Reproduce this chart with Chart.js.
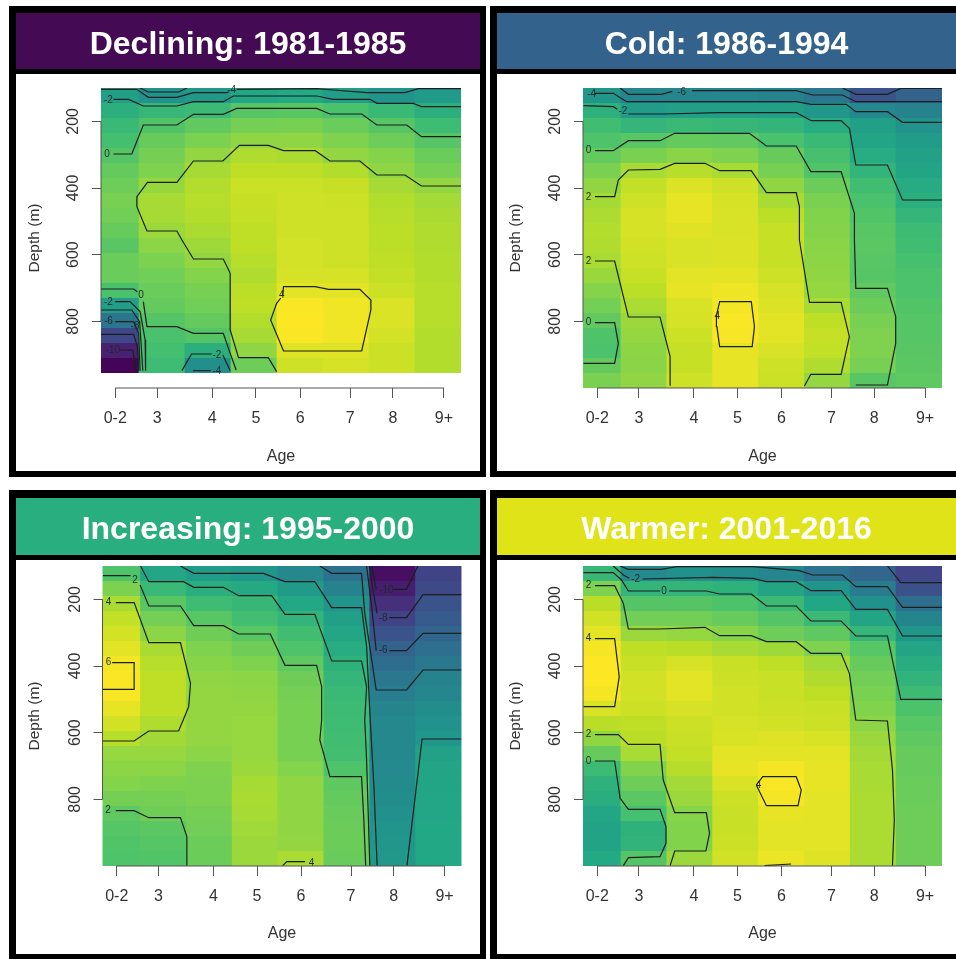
<!DOCTYPE html>
<html><head><meta charset="utf-8"><title>Temperature anomaly by age and depth</title>
<script src="https://cdn.jsdelivr.net/npm/chart.js@4"></script>
<style>
html,body{margin:0;padding:0;background:#fff;width:956px;height:959px;overflow:hidden;font-family:"Liberation Sans",Arial,sans-serif}
.frame{position:absolute;background:#000}
.head{position:absolute;box-sizing:border-box;padding-top:4px;color:#fff;font-weight:bold;font-size:32px;display:flex;align-items:center;justify-content:center;filter:blur(.5px)}
.body{position:absolute;background:#fff}
canvas{position:absolute;left:0;top:0;filter:blur(.55px)}
</style></head><body>
<script>
// Shared axes
const ages = [2,3,4,5,6,7,8,9];
const ageTickPositions = [1.98,2.89,4.09,5.04,6.0,7.09,8.02,9.13];
const ageTickLabels = ['0-2','3','4','5','6','7','8','9+'];
const depthTicks = [200,400,600,800];
const depthEdges = [100,145,190,235,280,325,370,415,460,505,550,595,640,685,730,775,820,865,910,955,1000];
const viridisStops = ['#440154','#482475','#414487','#355f8d','#2a788e','#21918c','#22a884','#44bf70','#7ad151','#bddf26','#fde725'];

// Temperature per age column (rows: depth bands, top to bottom)
const decliningGrid = [
[-2.6,-1.5,-0.9,-0.4,0.1,0.6,0.9,1.2,1.0,0.7,0.3,0.8,0.8,-0.2,-2.8,-5.5,-8.5,-10.5,-11.8,null],
[-3.6,-1,0,0.7,1.1,1.4,2,2.4,2.4,2.1,1.7,1.3,1,0.8,0.6,0.1,-0.2,-0.4,-0.6,null],
[-3.1,-0.8,0.5,1.3,1.9,2.4,2.7,2.8,2.7,2.5,2.2,1.9,1.5,1.2,1,0.6,0.1,-1.5,-3.8,null],
[-2.2,0.2,1.1,1.8,2.6,3,3.3,3.2,3.1,3,3,2.8,2.6,2.9,3,2.7,2.4,1.8,0.9,null],
[-2,0.3,1.2,1.8,2.5,3,3.3,3.4,3.4,3.4,3.5,3.5,3.6,3.9,4.5,4.6,4.5,3.8,3.4,null],
[-2.8,-0.2,0.8,1.4,1.9,2.7,3.2,3.3,3.4,3.4,3.4,3.4,3.6,3.9,4.3,4.3,4.3,3.8,3.6,null],
[-3.4,-0.9,0.2,0.9,1.5,1.8,2.4,2.7,2.8,2.9,2.9,3,3.1,3.3,3.7,3.7,3.5,3.3,3.3,null],
[-3,-1.5,-0.6,0.2,0.8,1.2,1.9,2.3,2.5,2.6,2.6,2.7,2.7,2.8,2.8,2.8,2.7,2.7,2.7,null]
];
const coldGrid = [
[-3.8,-1.9,-0.9,-0.4,0.3,1,1.6,2.1,2.3,2.5,2.4,2.2,1.8,1.3,0.8,0.2,-0.4,-0.5,0.3,1],
[-5,-3.4,-1.5,-0.1,1,2.2,2.9,3.2,3.4,3.4,3.3,3.2,3,2.7,2.3,1.9,1.7,1.5,1.4,1.6],
[-5,-3.2,-1.3,0.3,1.4,2.6,3.6,3.9,3.9,3.7,3.5,3.5,3.8,3.9,3.5,3.4,3.1,3,3,3.2],
[-5,-3.2,-1.4,0.2,1.1,2.2,3.2,3.4,3.5,3.5,3.6,3.6,3.8,4.1,4.2,4.4,4.3,3.9,3.9,3.9],
[-5.2,-3.2,-1.6,-0.6,0.4,0.9,1.6,2.2,2.7,3,3,3,3.2,3.4,3.6,3.8,3.8,3.5,3.2,3.1],
[-6,-3.8,-2.2,-1.3,-0.7,-0.3,0.5,1,1.2,1.3,1.4,1.5,1.6,1.7,2.2,2.8,3,2.9,2.4,1.7],
[-8.6,-4.8,-3.2,-2.7,-2.2,-1.6,-0.9,-0.6,-0.3,-0.1,0,-0.1,-0.2,0.2,0.5,0.9,1.1,1.1,0.9,-0.1],
[-7.5,-5.2,-4.2,-3.4,-3,-2.7,-2.3,-2,-1.5,-1.1,-0.9,-0.7,-0.5,-0.5,-0.3,-0.2,-0.2,-0.1,0,0.1]
];
const increasingGrid = [
[1.4,2.8,4,4.6,5.1,5.5,5.9,6.1,6.1,5.6,5,4.3,3.5,3.2,3,2.6,1.9,1.6,1.5,1.4],
[-0.8,0.5,1.7,2.6,3.2,4,4.3,4.5,4.5,4.5,4.1,3.8,3.5,3.2,2.9,2.6,2.4,1.8,1.6,1.5],
[-1.6,-0.2,0.8,1.7,2.4,2.9,3.1,3.3,3.4,3.4,3.4,3.4,3.2,2.9,2.8,2.8,2.6,2.5,2.3,2.3],
[-2,-0.6,0.4,1,1.7,2.4,2.9,3.2,3.3,3.4,3.5,3.5,3.5,3.6,3.9,4,3.9,3.7,3.6,3.6],
[-3,-1.7,-0.7,0.2,0.9,1.4,1.9,2.4,2.6,2.7,2.7,2.7,2.7,3,3.3,3.3,3.3,3.3,3.4,4],
[-4.5,-3.4,-2.1,-1.3,-0.8,-0.4,0,0.3,0.5,0.7,0.8,0.9,1,1.4,1.9,2.1,2.2,2.3,2.3,2.2],
[-10.3,-9.6,-8.7,-7.6,-6.6,-5.6,-4.9,-4.2,-3.8,-3.3,-3,-3,-3,-2.9,-2.8,-2.6,-2.5,-2.2,-2,-1.9],
[-7.6,-7.2,-6.6,-6.1,-5.4,-4.8,-4.1,-3.4,-3.1,-2.6,-2.3,-2,-1.2,-1,-0.9,-0.8,-0.8,-0.7,-0.7,-0.7]
];
const warmerGrid = [
[-0.4,1.6,2.9,3.4,3.8,4.2,4.4,4.4,4.2,3.6,2.9,2,1,-0.2,-0.8,-1,-1.5,-1.7,-1.7,-1.3],
[-3.2,-0.6,0.5,1.3,2.2,3,3.2,3.4,3.4,3.3,3,2.9,2.5,1.7,1.2,0.7,0.1,-0.8,-0.7,0.5],
[-2.8,-0.6,0.5,1.3,2.1,2.9,3.5,3.8,3.8,3.5,3.3,3.2,3.1,2.8,2.4,2.2,1.8,1.7,1.7,2.2],
[-3,-0.8,0.3,1,1.8,2.5,3.2,3.3,3.4,3.4,3.5,3.6,3.8,3.9,3.6,3.3,3.2,3.2,3.3,3.4],
[-3.4,-1.6,-0.3,0.5,1.2,2.3,3,3.2,3.2,3.3,3.4,3.7,3.8,4.2,4.3,4.2,3.9,3.8,3.8,4],
[-4.5,-2.6,-1.4,-0.3,0.8,1.6,2.4,2.7,3,3.2,3.3,3.6,3.8,3.9,3.9,3.8,3.8,3.8,3.8,3.7],
[-5.3,-4,-2.8,-1.6,-0.5,0.6,1,1.3,1.5,1.7,1.9,2.2,2.4,2.5,2.5,2.6,2.6,2.6,2.6,2.6],
[-7,-6.4,-4.8,-3.5,-2.4,-1.6,-1.1,-0.7,-0.2,0.3,0.6,0.8,1,1,1.1,1.1,1.2,1.2,1.2,1.2]
];

// Contour lines as [age, depth] vertices
const decliningContours = [
[[2.52,100],[2.70,112],[3.36,112],[3.54,100]],
[[1.67,104],[2.45,104],[2.70,128],[3.32,128],[3.68,114],[4.41,114],[4.45,112]],
[[4.62,104],[6.36,102],[6.72,106],[7.45,114],[8.28,114],[8.57,102],[9.5,102]],
[[1.94,134],[2.27,134],[2.59,154],[3.32,154],[3.68,141],[4.33,141],[4.55,124],[6.36,124],[6.72,134],[7.52,134],[7.67,146],[8.46,146],[8.64,156],[9.5,156]],
[[1.94,298],[2.34,298],[2.59,211],[3.32,211],[3.68,179],[4.33,179],[4.62,161],[6.36,161],[6.65,178],[7.34,178],[7.67,211],[8.32,211],[8.64,246],[9.5,246]],
[[9.5,394],[8.64,394],[8.28,361],[7.67,361],[7.30,319],[6.65,319],[6.33,288],[5.64,288],[5.31,272],[4.68,272],[4.32,319],[3.68,319],[3.32,383],[2.68,383],[2.45,426],[2.45,456],[2.67,529],[3.32,529],[3.43,556],[3.68,613],[4.33,613],[4.48,656],[4.48,826],[4.66,909],[5.31,909],[5.49,951]],
[[1.67,703],[2.38,703],[2.46,711]],
[[2.59,741],[2.67,816],[3.32,816],[3.68,836],[4.33,836],[4.48,896],[4.61,946]],
[[1.98,741],[2.30,741],[2.52,771],[2.63,856],[2.64,948]],
[[1.67,766],[2.34,766],[2.51,801],[2.58,948]],
[[1.98,801],[2.38,801],[2.49,836],[2.52,948]],
[[1.67,839],[2.38,839],[2.46,876],[2.49,948]],
[[2.07,886],[2.36,886],[2.43,948]],
[[3.43,948],[3.64,898],[4.08,898]],
[[4.32,901],[4.48,948]],
[[3.67,948],[4.06,948]],
[[5.62,721],[5.64,696],[6.33,696],[6.62,704],[7.30,704],[7.54,736],[7.54,766],[7.34,889],[5.64,889],[5.36,796],[5.49,746],[5.58,730]]
];
const coldContours = [
[[7.33,100],[7.62,119],[8.31,119],[8.60,101],[9.5,101]],
[[2.48,100],[2.66,119],[3.38,119],[3.62,110]],
[[4.05,108],[6.32,108],[6.68,121],[7.33,121],[7.62,141],[9.5,141]],
[[1.93,116],[2.33,116],[2.62,141],[6.32,141],[6.65,149],[7.41,149],[7.62,171],[8.31,171],[8.64,203],[9.5,203]],
[[1.68,153],[2.33,156],[2.42,164]],
[[2.66,178],[3.42,178],[4.65,174],[6.32,174],[6.65,198],[7.30,198],[7.48,221],[7.62,331],[8.31,331],[8.64,436],[9.5,436]],
[[1.93,288],[2.33,288],[2.66,258],[3.35,258],[3.67,236],[5.30,236],[5.67,274],[6.32,274],[6.64,351],[7.30,351],[7.59,476],[7.59,556],[7.62,701],[8.31,701],[8.49,786],[8.49,866],[8.31,991],[7.62,991]],
[[1.93,426],[2.36,426],[2.44,376],[2.66,346],[3.35,344],[3.67,326],[4.33,326],[4.65,348],[5.34,348],[5.67,414],[6.32,414],[6.39,456],[6.39,556],[6.61,743],[7.30,743],[7.48,846],[7.30,959],[6.64,959],[6.5,994]],
[[1.93,619],[2.36,619],[2.66,787],[3.35,787],[3.57,906],[3.57,993]],
[[1.93,804],[2.36,804],[2.44,866],[2.36,926],[1.68,926]],
[[4.58,784],[4.65,741],[5.34,741],[5.41,816],[5.36,876],[4.65,876],[4.59,816],[4.58,784]]
];
const increasingContours = [
[[1.68,129],[2.28,129]],
[[2.49,157],[2.68,220],[3.37,220],[3.66,279],[4.31,279],[4.64,304],[5.33,304],[5.65,398],[6.34,398],[6.45,462],[6.45,562],[6.41,622],[6.63,732],[7.32,732],[7.37,862],[7.41,999]],
[[1.96,210],[2.36,210],[2.68,330],[3.37,330],[3.59,452],[3.55,522],[3.43,562],[3.33,595],[2.68,595],[2.36,625],[1.68,625]],
[[1.88,390],[2.36,390],[2.36,470],[1.68,470]],
[[2.5,100],[2.68,147],[3.44,147],[3.66,164],[4.31,164],[4.64,189],[5.36,189],[5.65,245],[6.30,245],[6.67,385],[7.32,385],[7.43,462],[7.39,562],[7.43,682],[7.5,999]],
[[3.37,100],[3.66,122],[5.18,122],[5.65,147],[6.30,147],[6.67,225],[7.32,225],[7.43,342],[7.51,562],[7.59,762],[7.66,999]],
[[9.5,619],[8.64,619],[8.31,999]],
[[6.41,100],[6.67,122],[7.32,122],[7.39,242],[7.64,472],[8.30,472],[8.66,412],[9.5,412]],
[[7.43,100],[7.54,222],[7.64,354]],
[[7.93,354],[8.30,354],[8.66,302],[9.5,302]],
[[7.49,100],[7.57,172],[7.66,242]],
[[7.93,255],[8.30,255],[8.66,186],[9.5,186]],
[[7.54,100],[7.64,170]],
[[8.02,170],[8.30,170],[8.55,100]],
[[1.96,834],[2.36,834],[2.68,855],[3.37,855],[3.51,912],[3.51,999]],
[[5.6,999],[5.69,987],[6.09,987]]
];
const warmerContours = [
[[8.31,100],[8.60,150],[9.5,150]],
[[2.48,100],[2.66,110],[3.38,110],[3.71,102],[5.38,102],[6.39,114],[6.68,127],[7.33,127],[7.62,162],[8.31,162],[8.64,224],[9.5,224]],
[[2.33,100],[2.55,127],[2.68,137]],
[[2.97,139],[4.51,134],[5.38,137],[5.67,147],[6.32,147],[6.64,174],[7.30,174],[7.62,230],[8.31,230],[8.64,310],[9.5,310]],
[[1.68,120],[2.33,120],[2.51,142],[2.66,175],[3.35,175]],
[[3.55,175],[4.36,175],[4.65,184],[5.34,184],[5.67,220],[6.32,220],[6.64,265],[7.30,265],[7.62,310],[8.31,310],[8.60,500],[9.5,500]],
[[1.93,159],[2.36,159],[2.55,212],[2.66,289],[3.35,289],[4.33,284],[4.65,309],[5.34,309],[5.67,327],[6.32,327],[6.64,362],[7.30,362],[7.48,422],[7.62,562],[8.31,565],[8.42,712],[8.46,862],[8.42,999]],
[[1.93,318],[2.36,318],[2.46,432],[2.36,522],[1.68,522]],
[[1.93,606],[2.44,606],[2.66,635],[3.35,635],[3.42,742],[3.67,840],[4.36,840],[4.43,902],[4.35,955],[3.67,955],[3.57,999]],
[[1.93,685],[2.36,685],[2.48,797],[2.66,830],[3.35,830],[3.48,882],[3.48,932],[3.35,972],[2.66,975],[2.55,999]],
[[5.45,757],[5.59,732],[6.32,732],[6.43,772],[6.36,819],[5.67,819],[5.45,757]],
[[5.63,999],[6.21,994]]
];

// Contour labels as [age, depth, text]
const decliningLabels = [[4.51,106,'-4'],[1.83,137,'-2'],[1.8,298,'0'],[2.54,723,'0'],[1.83,743,'-2'],[1.83,801,'-6'],[2.41,814,'-8'],[1.93,886,'-10'],[4.19,901,'-2'],[4.19,949,'-4'],[5.6,721,'4']];
const coldLabels = [[1.86,118,'-4'],[3.82,113,'-6'],[2.54,171,'-2'],[1.79,288,'0'],[1.79,428,'2'],[1.79,619,'2'],[1.79,804,'0'],[4.6,784,'4']];
const increasingLabels = [[2.38,142,'2'],[1.8,210,'4'],[1.8,390,'6'],[7.86,172,'-10'],[7.79,257,'-8'],[7.79,354,'-6'],[1.79,834,'2'],[6.23,992,'4']];
const warmerLabels = [[2.82,140,'-2'],[3.44,175,'0'],[1.79,159,'2'],[1.79,318,'4'],[1.79,606,'2'],[1.79,685,'0'],[5.5,757,'4']];

const FONT = '"Liberation Sans", Arial, sans-serif';
const panels = [
 {title:'Declining: 1981-1985', head:'#440a54', grid:decliningGrid, lines:decliningContours, labels:decliningLabels, zMin:-12, zMax:4.6,
  frame:[9,6,477,471], hd:[16,13,464,56], body:[16,74,464,397], pad:{left:85,right:19,top:14,below:83}, ageBottom:5},
 {title:'Cold: 1986-1994', head:'#33638d', grid:coldGrid, lines:coldContours, labels:coldLabels, zMin:-13, zMax:4.5,
  frame:[490,6,466,471], hd:[497,13,459,56], body:[497,74,459,397], pad:{left:86,right:14,top:14,below:83}, ageBottom:5},
 {title:'Increasing: 1995-2000', head:'#29af7f', grid:increasingGrid, lines:increasingContours, labels:increasingLabels, zMin:-11, zMax:6.2,
  frame:[9,490,477,469], hd:[16,498,464,57], body:[16,560,464,394], pad:{left:86.5,right:18.5,top:6,below:88}, ageBottom:11},
 {title:'Warmer: 2001-2016', head:'#dfe318', grid:warmerGrid, lines:warmerContours, labels:warmerLabels, zMin:-10, zMax:4.4,
  frame:[490,490,466,469], hd:[497,498,459,57], body:[497,560,459,394], pad:{left:86,right:14,top:6,below:88}, ageBottom:11}
];

function hex(c){return [1,3,5].map(i=>parseInt(c.substr(i,2),16));}
function viridis(t){
  t=Math.max(0,Math.min(1,t))*(viridisStops.length-1);
  const i=Math.min(Math.floor(t),viridisStops.length-2),f=t-i,a=hex(viridisStops[i]),b=hex(viridisStops[i+1]);
  return 'rgb('+a.map((v,k)=>Math.round(v+(b[k]-v)*f)).join(',')+')';
}
function place(cls,box,parent){
  const d=document.createElement('div');d.className=cls;
  d.style.cssText+=`left:${box[0]}px;top:${box[1]}px;width:${box[2]}px;height:${box[3]}px`;
  (parent||document.body).appendChild(d);return d;
}
// Chart.js sizes bars on the tightest tick spacing, so widen them to fill one full age unit (slight overlap hides seams).
const tickGaps = ageTickPositions.slice(1).map((v,i)=>v-ageTickPositions[i]);
const fullCellRatio = 1.02/Math.min(...tickGaps);

const rAxes={id:'rAxes',afterDraw(chart){
  const c=chart.ctx,x=chart.scales.x,y=chart.scales.y;
  c.save();c.strokeStyle='#555';c.lineWidth=1;c.beginPath();
  c.moveTo(x.getPixelForValue(ageTickPositions[0]),y.bottom);
  c.lineTo(x.getPixelForValue(ageTickPositions[ageTickPositions.length-1]),y.bottom);
  c.moveTo(x.left,y.getPixelForValue(depthTicks[0]));
  c.lineTo(x.left,y.getPixelForValue(depthTicks[depthTicks.length-1]));
  c.stroke();c.restore();
}};
const contourText={id:'contourText',afterDatasetsDraw(chart,args,opts){
  const c=chart.ctx,x=chart.scales.x,y=chart.scales.y;
  c.save();c.font='10px '+FONT;c.fillStyle='#1f2a2a';c.textAlign='center';c.textBaseline='middle';
  opts.items.forEach(l=>c.fillText(l[2],x.getPixelForValue(l[0]),y.getPixelForValue(l[1])));
  c.restore();
}};

panels.forEach(p=>{
  place('frame',p.frame);
  const h=place('head',p.hd);h.style.background=p.head;h.textContent=p.title;
  const b=place('body',p.body);
  const cv=document.createElement('canvas');cv.width=p.body[2];cv.height=p.body[3];b.appendChild(cv);
  const datasets=[];
  depthEdges.slice(0,-1).forEach((top,r)=>{
    const data=[],colors=[];
    ages.forEach((a,c)=>{const v=p.grid[c][r];if(v===null)return;
      data.push({x:a,y:[top,depthEdges[r+1]]});colors.push(viridis((v-p.zMin)/(p.zMax-p.zMin)));});
    datasets.push({type:'bar',data,backgroundColor:colors,order:2,grouped:false,barPercentage:fullCellRatio,categoryPercentage:1,borderWidth:0});
  });
  p.lines.forEach(l=>datasets.push({type:'scatter',showLine:true,order:1,data:l.map(q=>({x:q[0],y:q[1]})),
    borderColor:'#1b1f1f',borderWidth:1.2,pointRadius:0,tension:0,fill:false}));
  new Chart(cv,{type:'bar',data:{datasets},plugins:[rAxes,contourText],options:{
    responsive:false,animation:false,events:[],
    layout:{padding:{left:0,right:p.pad.right,top:p.pad.top,bottom:0}},
    plugins:{legend:{display:false},tooltip:{enabled:false},title:{display:false},contourText:{items:p.labels}},
    scales:{
      x:{type:'linear',offset:false,min:1.67,max:9.5,
        afterBuildTicks(s){s.ticks=ageTickPositions.map(v=>({value:v}));},
        afterFit(s){s.height=p.pad.below;s.paddingLeft=0;s.paddingRight=0;},
        grid:{offset:false,drawOnChartArea:false,drawTicks:true,tickLength:10,color:'#555'},border:{display:false},
        ticks:{autoSkip:false,maxRotation:0,minRotation:0,padding:11,color:'#333',font:{family:FONT,size:16},
          callback(v,i){return ageTickLabels[i];}},
        title:{display:true,text:'Age',color:'#333',font:{family:FONT,size:16},padding:{top:0,bottom:p.ageBottom}}},
      y:{type:'linear',reverse:true,min:100,max:1000,
        afterBuildTicks(s){s.ticks=depthTicks.map(v=>({value:v}));},
        afterFit(s){s.width=p.pad.left;s.paddingTop=0;s.paddingBottom=0;},
        grid:{drawOnChartArea:false,drawTicks:true,tickLength:9,color:'#555'},border:{display:false},
        ticks:{autoSkip:false,minRotation:90,maxRotation:90,crossAlign:'center',padding:5,color:'#333',font:{family:FONT,size:16},
          callback(v){return String(v);}},
        title:{display:true,text:'Depth (m)',color:'#333',font:{family:FONT,size:15.5},padding:{top:9,bottom:0}}}
    }
  }});
});
</script>
</body></html>
